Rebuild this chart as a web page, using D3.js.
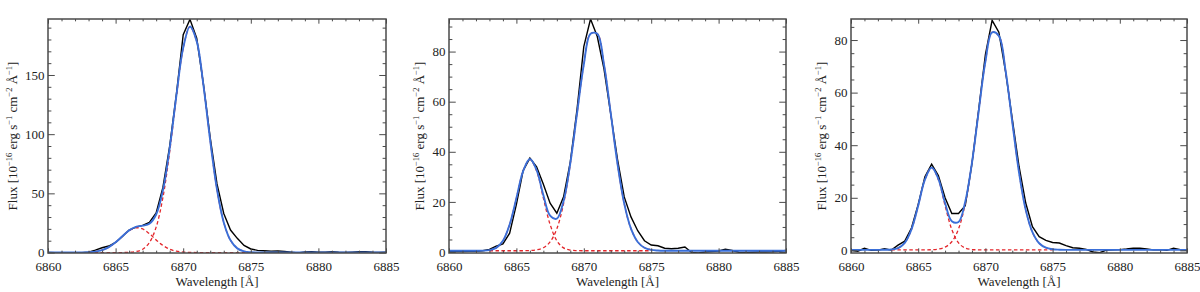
<!DOCTYPE html>
<html><head><meta charset="utf-8">
<script src="https://cdn.jsdelivr.net/npm/d3@7"></script>
<style>html,body{margin:0;padding:0;background:#fff;}svg{display:block;}</style>
</head><body>
<script>
// ---------- DATA ----------
const wave = [6860,6860.5,6861,6861.5,6862,6862.5,6863,6863.5,6864,6864.5,6865,6865.5,6866,6866.5,6867,6867.5,6868,6868.5,6869,6869.5,6870,6870.5,6871,6871.5,6872,6872.5,6873,6873.5,6874,6874.5,6875,6875.5,6876,6876.5,6877,6877.5,6878,6878.5,6879,6879.5,6880,6880.5,6881,6881.5,6882,6882.5,6883,6883.5,6884,6884.5,6885];
const compWave = [6863,6863.5,6864,6864.5,6865,6865.5,6866,6866.5,6867,6867.5,6868,6868.5,6869,6869.5,6870,6870.5,6871,6871.5,6872,6872.5,6873,6873.5,6874,6874.5,6875];

// Panel 1
const flux1 = [0,-0.2,-0.3,-0.2,-0.3,-0.2,0.2,2.0,4.0,5.5,8.5,13.5,19.0,21.5,23.0,25.5,33.5,55,90,134,184,197,181,142,97,58,33,19,12,6,3,1.8,1.5,1.2,1.3,1.0,0.2,-0.4,0.4,0.8,0.2,0.3,0.8,0.2,0,0.3,0.6,0.8,0.3,0.1,0.2];
const fit1 = [0,0,0,0,0,0.06,0.23,0.75,2.0,4.5,8.6,13.8,18.7,21.7,22.7,24.3,32.1,52.5,88.0,133.0,172.9,190.9,178.4,141.0,94.3,53.3,25.4,10.3,3.5,1.0,0.25,0.05,0,0,0,0,0,0,0,0,0,0,0,0,0,0,0,0,0,0,0];
const narrow1 = [0.23,0.75,2.0,4.5,8.6,13.8,18.5,20.9,19.9,15.9,10.6,6.0,2.8,1.1,0.38,0.1,0,0,0,0,0,0,0,0,0];
const broad1 = [0,0,0,0,0,0,0.18,0.77,2.77,8.4,21.5,46.5,85.2,131.9,172.5,190.8,178.4,141.0,94.3,53.3,25.4,10.3,3.5,1.0,0.25];

// Panel 2
const flux2 = [0.3,0.2,0.2,0.3,0.3,0.5,1.0,2.3,3.2,7.5,19,32.5,37.5,34,27,19.5,15.5,22,36,57,82,93,86,73,55,37,22,14,8.5,4.5,2.8,2.5,1.5,1.3,1.5,2.0,-0.2,-0.4,0.0,0.2,0.4,1.1,0.6,-0.1,-0.2,-0.1,0.0,0.0,0.1,0.3,0.6];
const fit2 = [0.5,0.5,0.5,0.5,0.5,0.54,0.75,1.64,4.48,11.0,21.5,32.3,37.1,32.7,22.7,14.5,13.3,20.4,35.5,55.3,74.8,87.1,87.1,74.8,55.3,35.2,19.3,9.3,4.0,1.7,0.86,0.59,0.5,0.5,0.5,0.5,0.5,0.5,0.5,0.5,0.5,0.5,0.5,0.5,0.5,0.5,0.5,0.5,0.5,0.5,0.5];
const narrow2 = [0.75,1.64,4.48,11.0,21.5,32.3,37.0,32.3,21.5,11.0,4.48,1.64,0.75,0.54,0.5,0.5,0.5,0.5,0.5,0.5,0.5,0.5,0.5,0.5,0.5];
const broad2 = [0.5,0.5,0.5,0.5,0.5,0.5,0.59,0.86,1.71,4.01,9.29,19.3,35.2,55.3,74.8,87.1,87.1,74.8,55.3,35.2,19.3,9.29,4.01,1.71,0.86];

// Panel 3
const flux3 = [0,-0.3,0.8,0,0.1,0.6,0.1,2.0,3.5,8.5,17.5,28,32.8,28.5,20,14,14,17,33,53.5,74.5,87.5,83,68,50,32,18,9,5.2,3.8,3.0,2.8,1.8,1.0,0.8,0.4,-0.6,-0.9,0.1,0.2,0.3,0.5,0.8,0.8,0.5,0.2,0.3,0.0,0.8,0.3,0.1];
const fit3 = [0.2,0.2,0.2,0.2,0.2,0.22,0.32,0.86,2.84,7.97,17.0,26.9,31.5,27.2,18.0,11.1,10.8,18.5,33.3,52.9,71.8,82.9,81.6,68.4,48.8,29.7,15.4,6.9,2.7,1.0,0.42,0.26,0.2,0.2,0.2,0.2,0.2,0.2,0.2,0.2,0.2,0.2,0.2,0.2,0.2,0.2,0.2,0.2,0.2,0.2,0.2];
const narrow3 = [0.32,0.86,2.84,7.97,17.0,26.9,31.4,26.9,17.0,7.97,2.84,0.86,0.32,0.22,0.2,0.2,0.2,0.2,0.2,0.2,0.2,0.2,0.2,0.2,0.2];
const broad3 = [0.2,0.2,0.2,0.2,0.2,0.2,0.26,0.48,1.21,3.28,8.18,17.8,33.2,52.9,71.8,82.9,81.6,68.4,48.8,29.7,15.4,6.88,2.70,1.00,0.42];

// Axes / ticks
const xDomain = [6860, 6885];
const xTicks = [6860, 6865, 6870, 6875, 6880, 6885];
const yDomains = [[-0.4, 197.3], [-0.4, 93.0], [-1.0, 88.0]];
const yTicks1 = [0, 50, 100, 150];
const yTicks23 = [0, 20, 40, 60, 80];
const xTitle = "Wavelength [Å]";

// ---------- LAYOUT ----------
const W = 1200, H = 292, topY = 19, botY = 253;
const panels = [
  {left: 48, right: 386, flux: flux1, fit: fit1, narrow: narrow1, broad: broad1, yd: yDomains[0], yt: yTicks1, minor: 10},
  {left: 449, right: 786, flux: flux2, fit: fit2, narrow: narrow2, broad: broad2, yd: yDomains[1], yt: yTicks23, minor: 5},
  {left: 851, right: 1187, flux: flux3, fit: fit3, narrow: narrow3, broad: broad3, yd: yDomains[2], yt: yTicks23, minor: 5}
];

const FONT = "'Liberation Serif', 'DejaVu Serif', serif";
const AX = "#4a4a4a";
const svg = d3.select("body").append("svg").attr("width", W).attr("height", H)
  .style("font-family", FONT);

panels.forEach((p, k) => {
  const x = d3.scaleLinear().domain(xDomain).range([p.left, p.right]);
  const y = d3.scaleLinear().domain(p.yd).range([botY, topY]);
  const g = svg.append("g");
  const ph = botY - topY, pw = p.right - p.left;
  const xMaj = 0.02 * ph, yMaj = 0.02 * pw;

  const clipId = "clip" + k;
  svg.append("clipPath").attr("id", clipId).append("rect")
    .attr("x", p.left).attr("y", topY).attr("width", pw).attr("height", ph);

  const plot = g.append("g").attr("clip-path", `url(#${clipId})`);
  const line = d3.line().x(d => x(d[0])).y(d => y(d[1]));
  const smooth = d3.line().x(d => x(d[0])).y(d => y(d[1])).curve(d3.curveCatmullRom.alpha(0.5));

  plot.append("path").datum(d3.zip(wave, p.flux)).attr("d", line)
    .attr("fill", "none").attr("stroke", "#000").attr("stroke-width", 1.4);
  [p.narrow, p.broad].forEach(c => {
    plot.append("path").datum(d3.zip(compWave, c)).attr("d", smooth)
      .attr("fill", "none").attr("stroke", "#e3262b").attr("stroke-width", 1.3)
      .attr("stroke-dasharray", "3.5,2.5");
  });
  plot.append("path").datum(d3.zip(wave, p.fit)).attr("d", smooth)
    .attr("fill", "none").attr("stroke", "#3a6fd8").attr("stroke-width", 1.9);

  const xMinor = d3.range(xDomain[0], xDomain[1] + 0.001, 1).filter(v => v % 5 !== 0);
  const yMinor = d3.range(0, p.yd[1], p.minor).filter(v => p.yt.indexOf(v) < 0);

  function style(sel) {
    sel.attr("font-family", null).attr("font-size", null);
    sel.select(".domain").remove();
    sel.selectAll("line").attr("stroke", AX).attr("stroke-width", 1);
    sel.selectAll("text").attr("fill", "#222").style("font-family", FONT).style("font-size", "13px");
  }
  g.append("g").attr("transform", `translate(0,${botY})`)
    .call(d3.axisBottom(x).tickValues(xTicks).tickSize(-xMaj).tickPadding(9).tickFormat(d3.format("d")))
    .call(style);
  g.append("g").attr("transform", `translate(0,${botY})`)
    .call(d3.axisBottom(x).tickValues(xMinor).tickSize(-xMaj / 2).tickFormat(""))
    .call(style);
  g.append("g").attr("transform", `translate(0,${topY})`)
    .call(d3.axisTop(x).tickValues(xTicks).tickSize(-xMaj).tickFormat(""))
    .call(style);
  g.append("g").attr("transform", `translate(0,${topY})`)
    .call(d3.axisTop(x).tickValues(xMinor).tickSize(-xMaj / 2).tickFormat(""))
    .call(style);
  const la = g.append("g").attr("transform", `translate(${p.left},0)`)
    .call(d3.axisLeft(y).tickValues(p.yt).tickSize(-yMaj).tickPadding(3.5).tickFormat(d3.format("d")))
    .call(style);
  g.append("g").attr("transform", `translate(${p.left},0)`)
    .call(d3.axisLeft(y).tickValues(yMinor).tickSize(-yMaj / 2).tickFormat(""))
    .call(style);
  g.append("g").attr("transform", `translate(${p.right},0)`)
    .call(d3.axisRight(y).tickValues(p.yt).tickSize(-yMaj).tickFormat(""))
    .call(style);
  g.append("g").attr("transform", `translate(${p.right},0)`)
    .call(d3.axisRight(y).tickValues(yMinor).tickSize(-yMaj / 2).tickFormat(""))
    .call(style);

  g.append("rect").attr("x", p.left).attr("y", topY).attr("width", pw).attr("height", ph)
    .attr("fill", "none").attr("stroke", AX).attr("stroke-width", 1.5);

  g.append("text").attr("x", (p.left + p.right) / 2).attr("y", 286)
    .attr("text-anchor", "middle").attr("fill", "#222").style("font-size", "13px").text(xTitle);

  let maxW = 0;
  la.selectAll("text").each(function () { maxW = Math.max(maxW, this.getComputedTextLength()); });
  const cx = p.left - 3.5 - maxW - 13;
  const cy = (topY + botY) / 2;
  const t = g.append("text").attr("transform", `translate(${cx},${cy}) rotate(-90)`)
    .attr("text-anchor", "middle").attr("dy", "0.35em").attr("fill", "#222").style("font-size", "13px");
  const parts = [["Flux [10", 0], ["\u221216", 1], [" erg s", 0], ["\u22121", 1], [" cm", 0], ["\u22122", 1], [" Å", 0], ["\u22121", 1], ["]", 0]];
  let prevSup = 0;
  parts.forEach(([s, sup]) => {
    const ts = t.append("tspan").text(s);
    if (sup) ts.style("font-size", "8.5px");
    const shift = (sup ? -5 : 0) - (prevSup ? -5 : 0);
    if (shift) ts.attr("dy", shift);
    prevSup = sup;
  });
});
</script>
</body></html>
